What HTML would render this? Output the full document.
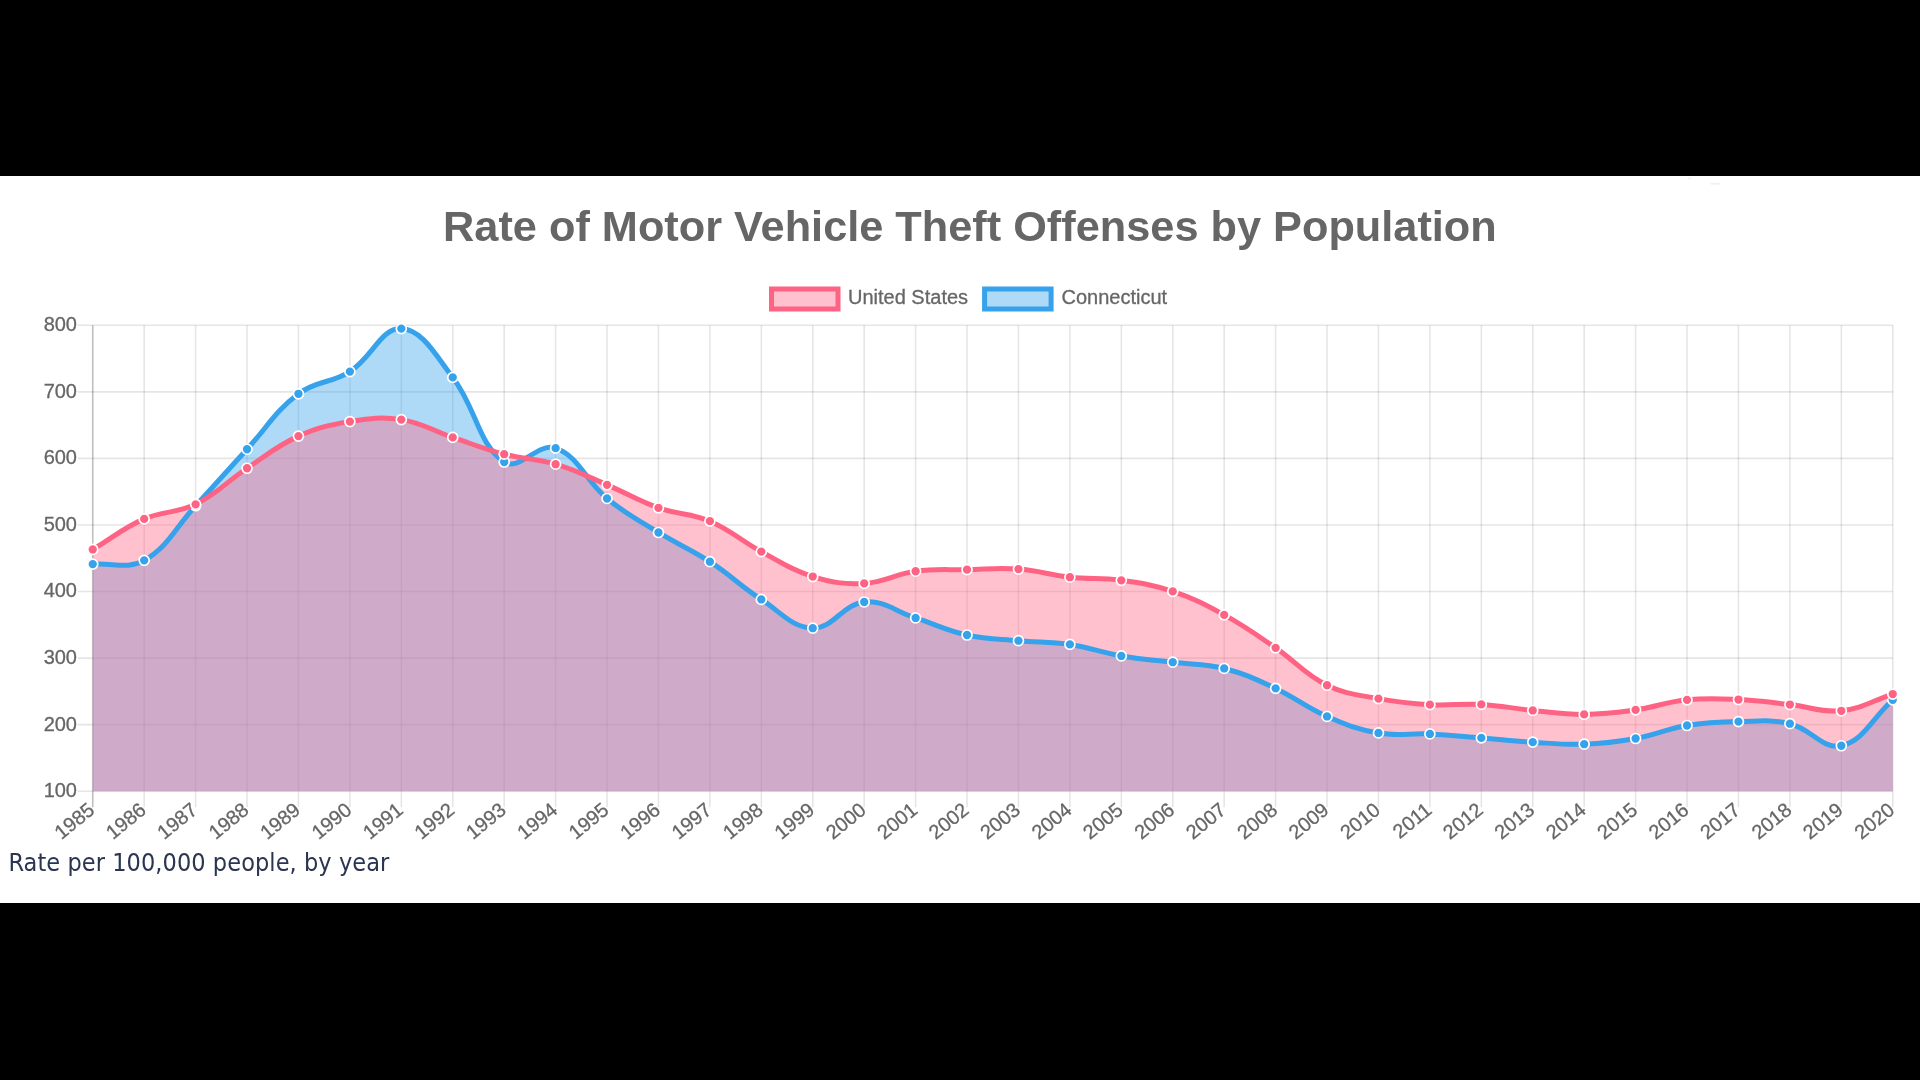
<!DOCTYPE html>
<html lang="en"><head><meta charset="utf-8"><title>Rate of Motor Vehicle Theft Offenses by Population</title>
<style>
html,body{margin:0;padding:0;background:#000;width:1920px;height:1080px;overflow:hidden}
.panel{position:absolute;left:0;top:176px;width:1920px;height:727px;background:#fff}
.cap{position:absolute;left:8.4px;top:843.3px;font-family:"DejaVu Sans Condensed","Liberation Sans",sans-serif;font-size:25px;line-height:40px;color:#2b3552;white-space:nowrap;letter-spacing:0.07px;filter:blur(0.3px)}
svg text{font-family:"Liberation Sans",sans-serif}
</style></head><body>
<div class="panel"></div>
<svg width="1920" height="1080" viewBox="0 0 1920 1080" style="position:absolute;left:0;top:0;filter:blur(0.35px)">
<g stroke="rgba(0,0,0,0.1)" stroke-width="1.6" fill="none"><line x1="77.75" y1="791.20" x2="1892.75" y2="791.20"/><line x1="77.75" y1="724.64" x2="1892.75" y2="724.64"/><line x1="77.75" y1="658.09" x2="1892.75" y2="658.09"/><line x1="77.75" y1="591.53" x2="1892.75" y2="591.53"/><line x1="77.75" y1="524.97" x2="1892.75" y2="524.97"/><line x1="77.75" y1="458.41" x2="1892.75" y2="458.41"/><line x1="77.75" y1="391.86" x2="1892.75" y2="391.86"/><line x1="77.75" y1="325.30" x2="1892.75" y2="325.30"/><line x1="144.18" y1="325.30" x2="144.18" y2="807.20"/><line x1="195.61" y1="325.30" x2="195.61" y2="807.20"/><line x1="247.04" y1="325.30" x2="247.04" y2="807.20"/><line x1="298.46" y1="325.30" x2="298.46" y2="807.20"/><line x1="349.89" y1="325.30" x2="349.89" y2="807.20"/><line x1="401.32" y1="325.30" x2="401.32" y2="807.20"/><line x1="452.75" y1="325.30" x2="452.75" y2="807.20"/><line x1="504.18" y1="325.30" x2="504.18" y2="807.20"/><line x1="555.61" y1="325.30" x2="555.61" y2="807.20"/><line x1="607.04" y1="325.30" x2="607.04" y2="807.20"/><line x1="658.46" y1="325.30" x2="658.46" y2="807.20"/><line x1="709.89" y1="325.30" x2="709.89" y2="807.20"/><line x1="761.32" y1="325.30" x2="761.32" y2="807.20"/><line x1="812.75" y1="325.30" x2="812.75" y2="807.20"/><line x1="864.18" y1="325.30" x2="864.18" y2="807.20"/><line x1="915.61" y1="325.30" x2="915.61" y2="807.20"/><line x1="967.04" y1="325.30" x2="967.04" y2="807.20"/><line x1="1018.46" y1="325.30" x2="1018.46" y2="807.20"/><line x1="1069.89" y1="325.30" x2="1069.89" y2="807.20"/><line x1="1121.32" y1="325.30" x2="1121.32" y2="807.20"/><line x1="1172.75" y1="325.30" x2="1172.75" y2="807.20"/><line x1="1224.18" y1="325.30" x2="1224.18" y2="807.20"/><line x1="1275.61" y1="325.30" x2="1275.61" y2="807.20"/><line x1="1327.04" y1="325.30" x2="1327.04" y2="807.20"/><line x1="1378.46" y1="325.30" x2="1378.46" y2="807.20"/><line x1="1429.89" y1="325.30" x2="1429.89" y2="807.20"/><line x1="1481.32" y1="325.30" x2="1481.32" y2="807.20"/><line x1="1532.75" y1="325.30" x2="1532.75" y2="807.20"/><line x1="1584.18" y1="325.30" x2="1584.18" y2="807.20"/><line x1="1635.61" y1="325.30" x2="1635.61" y2="807.20"/><line x1="1687.04" y1="325.30" x2="1687.04" y2="807.20"/><line x1="1738.46" y1="325.30" x2="1738.46" y2="807.20"/><line x1="1789.89" y1="325.30" x2="1789.89" y2="807.20"/><line x1="1841.32" y1="325.30" x2="1841.32" y2="807.20"/><line x1="1892.75" y1="325.30" x2="1892.75" y2="807.20"/></g>
<line x1="92.75" y1="325.30" x2="92.75" y2="807.20" stroke="rgba(0,0,0,0.25)" stroke-width="1.6"/>
<path d="M92.75,564.11 C113.32,562.59 127.41,569.83 144.18,560.31 C168.56,546.48 175.23,527.75 195.61,505.74 C216.37,483.31 226.36,471.73 247.04,449.23 C267.50,426.96 274.83,411.63 298.46,393.79 C315.97,380.57 331.16,383.44 349.89,371.56 C372.30,357.35 381.33,327.42 401.32,328.56 C422.47,329.77 435.58,355.13 452.75,377.41 C476.72,408.51 477.43,443.61 504.18,462.01 C518.57,471.91 538.11,441.96 555.61,448.16 C579.25,456.55 584.88,480.32 607.04,498.48 C626.02,514.05 637.47,519.58 658.46,532.49 C678.61,544.88 690.10,548.83 709.89,561.71 C731.24,575.61 739.93,585.62 761.32,599.45 C781.08,612.22 791.97,627.69 812.75,628.20 C833.11,628.70 842.89,604.10 864.18,601.98 C884.04,600.00 895.10,611.37 915.61,617.95 C936.24,624.57 945.99,630.33 967.04,634.99 C987.13,639.44 997.86,638.82 1018.46,640.71 C1039.00,642.60 1049.55,641.43 1069.89,644.44 C1090.69,647.52 1100.57,652.37 1121.32,655.96 C1141.72,659.48 1152.18,659.71 1172.75,662.21 C1193.32,664.71 1204.25,663.39 1224.18,668.47 C1245.40,673.88 1255.65,679.12 1275.61,688.44 C1296.79,698.32 1305.63,707.19 1327.04,716.46 C1346.77,725.00 1357.39,729.38 1378.46,732.96 C1398.53,736.38 1409.35,732.98 1429.89,733.96 C1450.49,734.95 1460.76,736.25 1481.32,737.89 C1501.90,739.53 1512.15,740.88 1532.75,742.15 C1553.29,743.41 1563.66,744.94 1584.18,744.21 C1604.81,743.48 1615.29,742.18 1635.61,738.49 C1656.43,734.70 1666.18,728.94 1687.04,725.51 C1707.32,722.17 1717.87,721.94 1738.46,721.58 C1759.01,721.22 1770.18,719.08 1789.89,723.71 C1811.32,728.74 1822.89,750.02 1841.32,745.74 C1864.03,740.47 1872.18,718.19 1892.75,699.82 L1892.75,791.20 L92.75,791.20 Z" fill="rgba(54,162,235,0.4)"/>
<path d="M92.75,549.46 C113.32,537.24 122.45,528.45 144.18,518.91 C163.59,510.40 176.69,513.65 195.61,504.34 C217.84,493.39 226.10,482.15 247.04,468.26 C267.25,454.86 276.59,446.04 298.46,436.12 C317.74,427.38 328.94,424.97 349.89,421.61 C370.08,418.37 381.32,416.54 401.32,419.61 C422.47,422.85 432.12,430.44 452.75,437.38 C473.27,444.29 483.27,448.77 504.18,454.22 C524.42,459.50 535.61,458.25 555.61,464.20 C576.76,470.50 586.64,476.18 607.04,484.84 C627.78,493.64 637.29,500.38 658.46,507.87 C678.43,514.92 690.53,512.94 709.89,521.18 C731.68,530.45 740.28,540.33 761.32,551.66 C781.43,562.49 791.19,569.90 812.75,576.55 C832.33,582.60 843.80,584.46 864.18,583.41 C884.94,582.33 894.76,574.02 915.61,571.23 C935.90,568.51 946.46,570.06 967.04,569.63 C987.60,569.21 998.02,567.59 1018.46,569.10 C1039.16,570.63 1049.21,574.96 1069.89,577.22 C1090.36,579.46 1100.96,577.54 1121.32,580.35 C1142.11,583.21 1152.92,584.74 1172.75,591.40 C1194.06,598.55 1204.40,604.04 1224.18,614.89 C1245.54,626.61 1255.45,634.05 1275.61,647.84 C1296.59,662.19 1304.62,674.17 1327.04,685.24 C1345.77,694.49 1357.63,694.68 1378.46,698.62 C1398.77,702.46 1409.25,703.51 1429.89,704.68 C1450.39,705.83 1460.82,703.26 1481.32,704.41 C1501.96,705.57 1512.14,708.47 1532.75,710.47 C1553.28,712.46 1563.62,714.51 1584.18,714.39 C1604.76,714.27 1615.19,712.76 1635.61,709.87 C1656.33,706.93 1666.27,701.90 1687.04,699.82 C1707.41,697.77 1717.94,698.61 1738.46,699.55 C1759.08,700.50 1769.35,702.30 1789.89,704.54 C1810.49,706.80 1821.19,712.86 1841.32,710.80 C1862.34,708.65 1872.18,700.74 1892.75,694.03 L1892.75,791.20 L92.75,791.20 Z" fill="rgba(255,99,132,0.4)"/>
<path d="M92.75,564.11 C113.32,562.59 127.41,569.83 144.18,560.31 C168.56,546.48 175.23,527.75 195.61,505.74 C216.37,483.31 226.36,471.73 247.04,449.23 C267.50,426.96 274.83,411.63 298.46,393.79 C315.97,380.57 331.16,383.44 349.89,371.56 C372.30,357.35 381.33,327.42 401.32,328.56 C422.47,329.77 435.58,355.13 452.75,377.41 C476.72,408.51 477.43,443.61 504.18,462.01 C518.57,471.91 538.11,441.96 555.61,448.16 C579.25,456.55 584.88,480.32 607.04,498.48 C626.02,514.05 637.47,519.58 658.46,532.49 C678.61,544.88 690.10,548.83 709.89,561.71 C731.24,575.61 739.93,585.62 761.32,599.45 C781.08,612.22 791.97,627.69 812.75,628.20 C833.11,628.70 842.89,604.10 864.18,601.98 C884.04,600.00 895.10,611.37 915.61,617.95 C936.24,624.57 945.99,630.33 967.04,634.99 C987.13,639.44 997.86,638.82 1018.46,640.71 C1039.00,642.60 1049.55,641.43 1069.89,644.44 C1090.69,647.52 1100.57,652.37 1121.32,655.96 C1141.72,659.48 1152.18,659.71 1172.75,662.21 C1193.32,664.71 1204.25,663.39 1224.18,668.47 C1245.40,673.88 1255.65,679.12 1275.61,688.44 C1296.79,698.32 1305.63,707.19 1327.04,716.46 C1346.77,725.00 1357.39,729.38 1378.46,732.96 C1398.53,736.38 1409.35,732.98 1429.89,733.96 C1450.49,734.95 1460.76,736.25 1481.32,737.89 C1501.90,739.53 1512.15,740.88 1532.75,742.15 C1553.29,743.41 1563.66,744.94 1584.18,744.21 C1604.81,743.48 1615.29,742.18 1635.61,738.49 C1656.43,734.70 1666.18,728.94 1687.04,725.51 C1707.32,722.17 1717.87,721.94 1738.46,721.58 C1759.01,721.22 1770.18,719.08 1789.89,723.71 C1811.32,728.74 1822.89,750.02 1841.32,745.74 C1864.03,740.47 1872.18,718.19 1892.75,699.82" fill="none" stroke="#36a2eb" stroke-width="5" stroke-linecap="butt" stroke-linejoin="miter"/>
<g fill="#36a2eb" stroke="#fff" stroke-width="1.7"><circle cx="92.75" cy="564.11" r="5"/><circle cx="144.18" cy="560.31" r="5"/><circle cx="195.61" cy="505.74" r="5"/><circle cx="247.04" cy="449.23" r="5"/><circle cx="298.46" cy="393.79" r="5"/><circle cx="349.89" cy="371.56" r="5"/><circle cx="401.32" cy="328.56" r="5"/><circle cx="452.75" cy="377.41" r="5"/><circle cx="504.18" cy="462.01" r="5"/><circle cx="555.61" cy="448.16" r="5"/><circle cx="607.04" cy="498.48" r="5"/><circle cx="658.46" cy="532.49" r="5"/><circle cx="709.89" cy="561.71" r="5"/><circle cx="761.32" cy="599.45" r="5"/><circle cx="812.75" cy="628.20" r="5"/><circle cx="864.18" cy="601.98" r="5"/><circle cx="915.61" cy="617.95" r="5"/><circle cx="967.04" cy="634.99" r="5"/><circle cx="1018.46" cy="640.71" r="5"/><circle cx="1069.89" cy="644.44" r="5"/><circle cx="1121.32" cy="655.96" r="5"/><circle cx="1172.75" cy="662.21" r="5"/><circle cx="1224.18" cy="668.47" r="5"/><circle cx="1275.61" cy="688.44" r="5"/><circle cx="1327.04" cy="716.46" r="5"/><circle cx="1378.46" cy="732.96" r="5"/><circle cx="1429.89" cy="733.96" r="5"/><circle cx="1481.32" cy="737.89" r="5"/><circle cx="1532.75" cy="742.15" r="5"/><circle cx="1584.18" cy="744.21" r="5"/><circle cx="1635.61" cy="738.49" r="5"/><circle cx="1687.04" cy="725.51" r="5"/><circle cx="1738.46" cy="721.58" r="5"/><circle cx="1789.89" cy="723.71" r="5"/><circle cx="1841.32" cy="745.74" r="5"/><circle cx="1892.75" cy="699.82" r="5"/></g>
<path d="M92.75,549.46 C113.32,537.24 122.45,528.45 144.18,518.91 C163.59,510.40 176.69,513.65 195.61,504.34 C217.84,493.39 226.10,482.15 247.04,468.26 C267.25,454.86 276.59,446.04 298.46,436.12 C317.74,427.38 328.94,424.97 349.89,421.61 C370.08,418.37 381.32,416.54 401.32,419.61 C422.47,422.85 432.12,430.44 452.75,437.38 C473.27,444.29 483.27,448.77 504.18,454.22 C524.42,459.50 535.61,458.25 555.61,464.20 C576.76,470.50 586.64,476.18 607.04,484.84 C627.78,493.64 637.29,500.38 658.46,507.87 C678.43,514.92 690.53,512.94 709.89,521.18 C731.68,530.45 740.28,540.33 761.32,551.66 C781.43,562.49 791.19,569.90 812.75,576.55 C832.33,582.60 843.80,584.46 864.18,583.41 C884.94,582.33 894.76,574.02 915.61,571.23 C935.90,568.51 946.46,570.06 967.04,569.63 C987.60,569.21 998.02,567.59 1018.46,569.10 C1039.16,570.63 1049.21,574.96 1069.89,577.22 C1090.36,579.46 1100.96,577.54 1121.32,580.35 C1142.11,583.21 1152.92,584.74 1172.75,591.40 C1194.06,598.55 1204.40,604.04 1224.18,614.89 C1245.54,626.61 1255.45,634.05 1275.61,647.84 C1296.59,662.19 1304.62,674.17 1327.04,685.24 C1345.77,694.49 1357.63,694.68 1378.46,698.62 C1398.77,702.46 1409.25,703.51 1429.89,704.68 C1450.39,705.83 1460.82,703.26 1481.32,704.41 C1501.96,705.57 1512.14,708.47 1532.75,710.47 C1553.28,712.46 1563.62,714.51 1584.18,714.39 C1604.76,714.27 1615.19,712.76 1635.61,709.87 C1656.33,706.93 1666.27,701.90 1687.04,699.82 C1707.41,697.77 1717.94,698.61 1738.46,699.55 C1759.08,700.50 1769.35,702.30 1789.89,704.54 C1810.49,706.80 1821.19,712.86 1841.32,710.80 C1862.34,708.65 1872.18,700.74 1892.75,694.03" fill="none" stroke="#ff6384" stroke-width="5" stroke-linecap="butt" stroke-linejoin="miter"/>
<g fill="#ff6384" stroke="#fff" stroke-width="1.7"><circle cx="92.75" cy="549.46" r="5"/><circle cx="144.18" cy="518.91" r="5"/><circle cx="195.61" cy="504.34" r="5"/><circle cx="247.04" cy="468.26" r="5"/><circle cx="298.46" cy="436.12" r="5"/><circle cx="349.89" cy="421.61" r="5"/><circle cx="401.32" cy="419.61" r="5"/><circle cx="452.75" cy="437.38" r="5"/><circle cx="504.18" cy="454.22" r="5"/><circle cx="555.61" cy="464.20" r="5"/><circle cx="607.04" cy="484.84" r="5"/><circle cx="658.46" cy="507.87" r="5"/><circle cx="709.89" cy="521.18" r="5"/><circle cx="761.32" cy="551.66" r="5"/><circle cx="812.75" cy="576.55" r="5"/><circle cx="864.18" cy="583.41" r="5"/><circle cx="915.61" cy="571.23" r="5"/><circle cx="967.04" cy="569.63" r="5"/><circle cx="1018.46" cy="569.10" r="5"/><circle cx="1069.89" cy="577.22" r="5"/><circle cx="1121.32" cy="580.35" r="5"/><circle cx="1172.75" cy="591.40" r="5"/><circle cx="1224.18" cy="614.89" r="5"/><circle cx="1275.61" cy="647.84" r="5"/><circle cx="1327.04" cy="685.24" r="5"/><circle cx="1378.46" cy="698.62" r="5"/><circle cx="1429.89" cy="704.68" r="5"/><circle cx="1481.32" cy="704.41" r="5"/><circle cx="1532.75" cy="710.47" r="5"/><circle cx="1584.18" cy="714.39" r="5"/><circle cx="1635.61" cy="709.87" r="5"/><circle cx="1687.04" cy="699.82" r="5"/><circle cx="1738.46" cy="699.55" r="5"/><circle cx="1789.89" cy="704.54" r="5"/><circle cx="1841.32" cy="710.80" r="5"/><circle cx="1892.75" cy="694.03" r="5"/></g>
<g font-size="20" fill="#666" stroke="#666" stroke-width="0.3" text-anchor="end">
<text x="77.00" y="797.10">100</text>
<text x="77.00" y="730.54">200</text>
<text x="77.00" y="663.99">300</text>
<text x="77.00" y="597.43">400</text>
<text x="77.00" y="530.87">500</text>
<text x="77.00" y="464.31">600</text>
<text x="77.00" y="397.76">700</text>
<text x="77.00" y="331.20">800</text>
</g>
<g font-size="20" fill="#666" stroke="#666" stroke-width="0.3" text-anchor="end">
<text transform="translate(91.45,806.70) rotate(-39.4)" x="0" y="0" dy="0.35em">1985</text>
<text transform="translate(142.88,806.70) rotate(-39.4)" x="0" y="0" dy="0.35em">1986</text>
<text transform="translate(194.31,806.70) rotate(-39.4)" x="0" y="0" dy="0.35em">1987</text>
<text transform="translate(245.74,806.70) rotate(-39.4)" x="0" y="0" dy="0.35em">1988</text>
<text transform="translate(297.16,806.70) rotate(-39.4)" x="0" y="0" dy="0.35em">1989</text>
<text transform="translate(348.59,806.70) rotate(-39.4)" x="0" y="0" dy="0.35em">1990</text>
<text transform="translate(400.02,806.70) rotate(-39.4)" x="0" y="0" dy="0.35em">1991</text>
<text transform="translate(451.45,806.70) rotate(-39.4)" x="0" y="0" dy="0.35em">1992</text>
<text transform="translate(502.88,806.70) rotate(-39.4)" x="0" y="0" dy="0.35em">1993</text>
<text transform="translate(554.31,806.70) rotate(-39.4)" x="0" y="0" dy="0.35em">1994</text>
<text transform="translate(605.74,806.70) rotate(-39.4)" x="0" y="0" dy="0.35em">1995</text>
<text transform="translate(657.16,806.70) rotate(-39.4)" x="0" y="0" dy="0.35em">1996</text>
<text transform="translate(708.59,806.70) rotate(-39.4)" x="0" y="0" dy="0.35em">1997</text>
<text transform="translate(760.02,806.70) rotate(-39.4)" x="0" y="0" dy="0.35em">1998</text>
<text transform="translate(811.45,806.70) rotate(-39.4)" x="0" y="0" dy="0.35em">1999</text>
<text transform="translate(862.88,806.70) rotate(-39.4)" x="0" y="0" dy="0.35em">2000</text>
<text transform="translate(914.31,806.70) rotate(-39.4)" x="0" y="0" dy="0.35em">2001</text>
<text transform="translate(965.74,806.70) rotate(-39.4)" x="0" y="0" dy="0.35em">2002</text>
<text transform="translate(1017.16,806.70) rotate(-39.4)" x="0" y="0" dy="0.35em">2003</text>
<text transform="translate(1068.59,806.70) rotate(-39.4)" x="0" y="0" dy="0.35em">2004</text>
<text transform="translate(1120.02,806.70) rotate(-39.4)" x="0" y="0" dy="0.35em">2005</text>
<text transform="translate(1171.45,806.70) rotate(-39.4)" x="0" y="0" dy="0.35em">2006</text>
<text transform="translate(1222.88,806.70) rotate(-39.4)" x="0" y="0" dy="0.35em">2007</text>
<text transform="translate(1274.31,806.70) rotate(-39.4)" x="0" y="0" dy="0.35em">2008</text>
<text transform="translate(1325.74,806.70) rotate(-39.4)" x="0" y="0" dy="0.35em">2009</text>
<text transform="translate(1377.16,806.70) rotate(-39.4)" x="0" y="0" dy="0.35em">2010</text>
<text transform="translate(1428.59,806.70) rotate(-39.4)" x="0" y="0" dy="0.35em">2011</text>
<text transform="translate(1480.02,806.70) rotate(-39.4)" x="0" y="0" dy="0.35em">2012</text>
<text transform="translate(1531.45,806.70) rotate(-39.4)" x="0" y="0" dy="0.35em">2013</text>
<text transform="translate(1582.88,806.70) rotate(-39.4)" x="0" y="0" dy="0.35em">2014</text>
<text transform="translate(1634.31,806.70) rotate(-39.4)" x="0" y="0" dy="0.35em">2015</text>
<text transform="translate(1685.74,806.70) rotate(-39.4)" x="0" y="0" dy="0.35em">2016</text>
<text transform="translate(1737.16,806.70) rotate(-39.4)" x="0" y="0" dy="0.35em">2017</text>
<text transform="translate(1788.59,806.70) rotate(-39.4)" x="0" y="0" dy="0.35em">2018</text>
<text transform="translate(1840.02,806.70) rotate(-39.4)" x="0" y="0" dy="0.35em">2019</text>
<text transform="translate(1891.45,806.70) rotate(-39.4)" x="0" y="0" dy="0.35em">2020</text>
</g>
<rect x="771.5" y="289" width="66.5" height="20" fill="rgba(255,99,132,0.4)" stroke="#ff6384" stroke-width="5"/>
<rect x="984.6" y="289" width="66.5" height="20" fill="rgba(54,162,235,0.4)" stroke="#36a2eb" stroke-width="5"/>
<g font-size="20" fill="#666" stroke="#666" stroke-width="0.3">
<text x="848" y="303.9">United States</text><text x="1061.5" y="303.9">Connecticut</text></g>
<text x="969.9" y="240.9" text-anchor="middle" font-weight="bold" font-size="43.3" fill="#666">Rate of Motor Vehicle Theft Offenses by Population</text>
<rect x="1688.2" y="177.8" width="2.6" height="1.4" fill="#eceff9"/><rect x="1710.8" y="183.1" width="9.4" height="1.5" fill="#eceff9"/>
</svg>
<div class="cap">Rate per 100,000 people, by year</div>
</body></html>
